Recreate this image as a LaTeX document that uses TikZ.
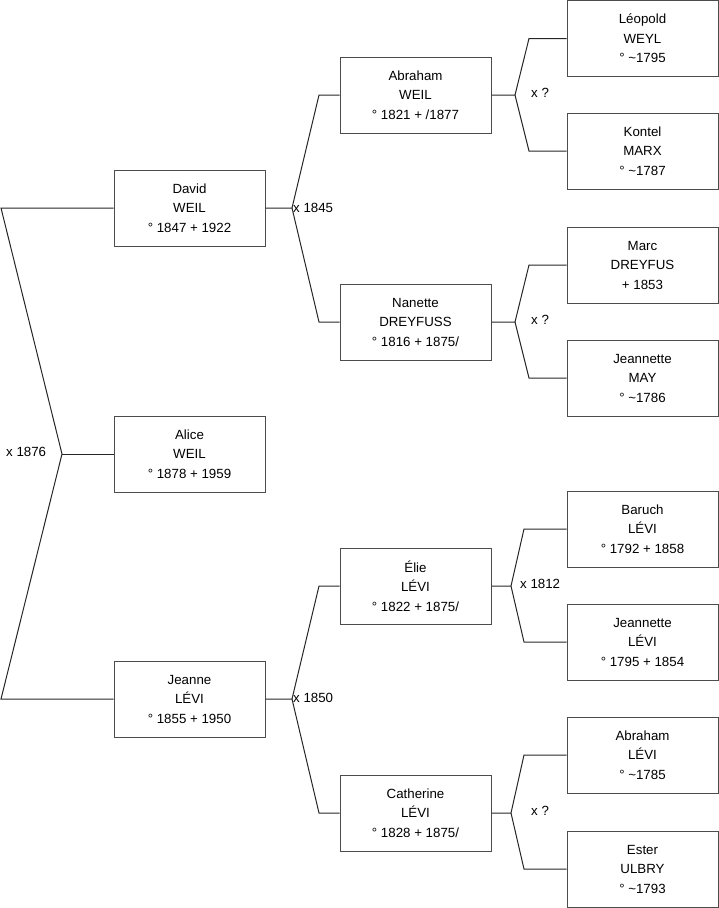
\documentclass[tikz,border=0pt]{standalone}
\usepackage{fontspec}
\setmainfont{Liberation Sans}
\begin{document}
\begin{tikzpicture}[x=1pt,y=-1pt,
  person/.style={draw=black!70, line width=1pt, fill=white, minimum width=151pt, minimum height=76pt, inner sep=0pt, align=center, font=\fontsize{13.3}{19.5}\selectfont},
  link/.style={draw=black!85, line width=1pt},
  lbl/.style={inner sep=0pt, font=\fontsize{13.3}{15}\selectfont}]
\useasboundingbox (0,0) rectangle (719,908);
% generation 1
\node[person] (David) at (189.5,208) {David\\WEIL\\° 1847 + 1922};
\node[person] (Alice) at (189.5,454) {Alice\\WEIL\\° 1878 + 1959};
\node[person] (Jeanne) at (189.5,699) {Jeanne\\LÉVI\\° 1855 + 1950};
% generation 2
\node[person] (Abraham) at (415.5,95) {Abraham\\WEIL\\° 1821 + /1877};
\node[person] (Nanette) at (415.5,322) {Nanette\\DREYFUSS\\° 1816 + 1875/};
\node[person] (Elie) at (415.5,586) {Élie\\LÉVI\\° 1822 + 1875/};
\node[person] (Catherine) at (415.5,813) {Catherine\\LÉVI\\° 1828 + 1875/};
% generation 3
\node[person] (Leopold) at (642.5,38.5) {Léopold\\WEYL\\° \textasciitilde 1795};
\node[person] (Kontel) at (642.5,151) {Kontel\\MARX\\° \textasciitilde 1787};
\node[person] (Marc) at (642.5,265) {Marc\\DREYFUS\\+ 1853};
\node[person] (JeannetteM) at (642.5,378) {Jeannette\\MAY\\° \textasciitilde 1786};
\node[person] (Baruch) at (642.5,529) {Baruch\\LÉVI\\° 1792 + 1858};
\node[person] (JeannetteL) at (642.5,642) {Jeannette\\LÉVI\\° 1795 + 1854};
\node[person] (AbrahamL) at (642.5,755) {Abraham\\LÉVI\\° \textasciitilde 1785};
\node[person] (Ester) at (642.5,869) {Ester\\ULBRY\\° \textasciitilde 1793};
% root connectors
\coordinate (L1) at (1,208);
\coordinate (L2) at (62,454);
\coordinate (L3) at (1,699);
\draw[link] (David.west) -- (L1) -- (L2) -- (L3) -- (Jeanne.west);
\draw[link] (L2) -- (Alice.west);
\node[lbl, anchor=west] (m0) at (6,452) {x 1876};
% David
\coordinate (D1) at (292,208);
\coordinate (D2) at (319,95);
\coordinate (D3) at (319,322);
\draw[link] (David.east) -- (D1) -- (D2) -- (Abraham.west);
\draw[link] (D1) -- (D3) -- (Nanette.west);
\node[lbl, anchor=west] (m1) at (293,208) {x 1845};
% Jeanne
\coordinate (J1) at (292,699);
\coordinate (J2) at (319,586);
\coordinate (J3) at (319,813);
\draw[link] (Jeanne.east) -- (J1) -- (J2) -- (Elie.west);
\draw[link] (J1) -- (J3) -- (Catherine.west);
\node[lbl, anchor=west] (m2) at (293,698) {x 1850};
% Abraham
\coordinate (A1) at (515,95);
\coordinate (A2) at (529,38.5);
\coordinate (A3) at (529,151);
\draw[link] (Abraham.east) -- (A1) -- (A2) -- (Leopold.west);
\draw[link] (A1) -- (A3) -- (Kontel.west);
\node[lbl, anchor=west] (m3) at (531,93) {x ?};
% Nanette
\coordinate (N1) at (515,322);
\coordinate (N2) at (529,265);
\coordinate (N3) at (529,378);
\draw[link] (Nanette.east) -- (N1) -- (N2) -- (Marc.west);
\draw[link] (N1) -- (N3) -- (JeannetteM.west);
\node[lbl, anchor=west] (m4) at (531,320) {x ?};
% Elie
\coordinate (E1) at (511,586);
\coordinate (E2) at (524,529);
\coordinate (E3) at (524,642);
\draw[link] (Elie.east) -- (E1) -- (E2) -- (Baruch.west);
\draw[link] (E1) -- (E3) -- (JeannetteL.west);
\node[lbl, anchor=west] (m5) at (520,584) {x 1812};
% Catherine
\coordinate (C1) at (511,813);
\coordinate (C2) at (524,755);
\coordinate (C3) at (524,869);
\draw[link] (Catherine.east) -- (C1) -- (C2) -- (AbrahamL.west);
\draw[link] (C1) -- (C3) -- (Ester.west);
\node[lbl, anchor=west] (m6) at (531,811) {x ?};
\end{tikzpicture}
\end{document}
